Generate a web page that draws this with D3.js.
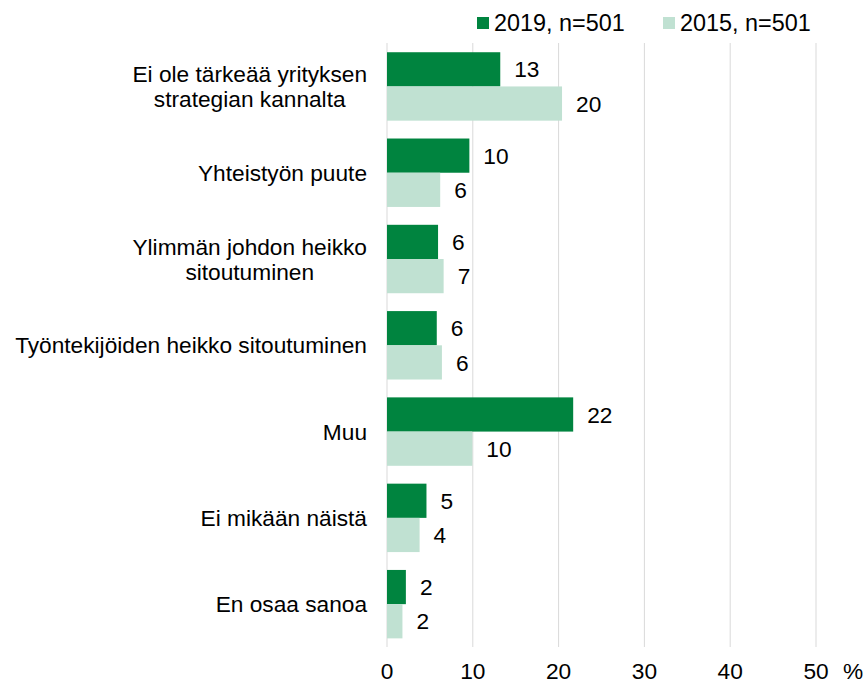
<!DOCTYPE html>
<html>
<head>
<meta charset="utf-8">
<script src="https://d3js.org/d3.v7.min.js"></script>
<style>
  html, body { margin: 0; padding: 0; background: #fff; }
  svg { display: block; font-family: "Liberation Sans", Arial, sans-serif; }
</style>
</head>
<body>
<div id="chart"></div>
<script>
// Categories (each may wrap into several lines)
const categories = [
  ["Ei ole tärkeää yrityksen", "strategian kannalta"],
  ["Yhteistyön puute"],
  ["Ylimmän johdon heikko", "sitoutuminen"],
  ["Työntekijöiden heikko sitoutuminen"],
  ["Muu"],
  ["Ei mikään näistä"],
  ["En osaa sanoa"]
];
const seriesNames = ["2019, n=501", "2015, n=501"];
const values2019 = [13.2, 9.6, 5.95, 5.8, 21.7, 4.6, 2.2];
const values2015 = [20.4, 6.2, 6.6, 6.4, 9.95, 3.8, 1.8];
const xTicks = [0, 10, 20, 30, 40, 50];

const colors = ["#00843f", "#c0e1d2"];
const W = 863, H = 684;
const fontSize = 22.7;

const svg = d3.select('#chart').append('svg')
  .attr('width', W).attr('height', H);

const x = d3.scaleLinear().domain([0, 50]).range([387, 816]);
const y = d3.scaleBand()
  .domain(d3.range(categories.length))
  .range([43.3, 647.3])
  .paddingInner(0.207)
  .paddingOuter(0.1035);
const sub = d3.scaleBand().domain([0, 1]).range([0, y.bandwidth()]);

// Gridlines
svg.append('g').selectAll('line')
  .data(xTicks)
  .join('line')
  .attr('x1', d => x(d)).attr('x2', d => x(d))
  .attr('y1', 43).attr('y2', 647)
  .attr('stroke', '#d9d9d9').attr('stroke-width', 1);

// Bars
const rows = categories.map((c, i) => [values2019[i], values2015[i]]);
const group = svg.append('g').selectAll('g')
  .data(rows)
  .join('g')
  .attr('transform', (d, i) => 'translate(0,' + y(i) + ')');

group.selectAll('rect')
  .data(d => d)
  .join('rect')
  .attr('x', x(0))
  .attr('y', (d, j) => sub(j))
  .attr('width', d => x(d) - x(0))
  .attr('height', sub.bandwidth())
  .attr('fill', (d, j) => colors[j]);

// Value labels
group.selectAll('text')
  .data(d => d)
  .join('text')
  .attr('x', d => x(d) + 14)
  .attr('y', (d, j) => sub(j) + sub.bandwidth() / 2)
  .attr('dy', '0.36em')
  .attr('font-size', fontSize + 'px')
  .attr('fill', '#000')
  .text(d => Math.round(d));

// Category labels: block right-aligned, lines centered within block
const labelRight = 367;
const lineH = 25;
categories.forEach((lines, i) => {
  const t = svg.append('text')
    .attr('font-size', fontSize + 'px')
    .attr('fill', '#000')
    .attr('text-anchor', 'middle');
  const cy = y(i) + y.bandwidth() / 2;
  lines.forEach((ln, k) => {
    t.append('tspan')
      .attr('y', cy + (k - (lines.length - 1) / 2) * lineH)
      .attr('dy', '0.36em')
      .text(ln);
  });
  let maxW = 0;
  t.selectAll('tspan').each(function() {
    maxW = Math.max(maxW, this.getComputedTextLength());
  });
  t.selectAll('tspan').attr('x', labelRight - maxW / 2);
});

// X axis tick labels
svg.append('g').selectAll('text')
  .data(xTicks)
  .join('text')
  .attr('x', d => x(d))
  .attr('y', 679)
  .attr('text-anchor', 'middle')
  .attr('font-size', fontSize + 'px')
  .attr('fill', '#000')
  .text(d => d);

svg.append('text')
  .attr('x', 843).attr('y', 679)
  .attr('font-size', fontSize + 'px')
  .attr('fill', '#000')
  .text('%');

// Legend
const legendX = [477, 663];
const legend = svg.append('g').selectAll('g')
  .data(seriesNames)
  .join('g')
  .attr('transform', (d, i) => 'translate(' + legendX[i] + ',17)');
legend.append('rect')
  .attr('width', 12).attr('height', 12)
  .attr('fill', (d, i) => colors[i]);
legend.append('text')
  .attr('x', 17).attr('y', 14)
  .attr('font-size', '23.4px')
  .attr('fill', '#000')
  .text(d => d);
</script>
</body>
</html>
